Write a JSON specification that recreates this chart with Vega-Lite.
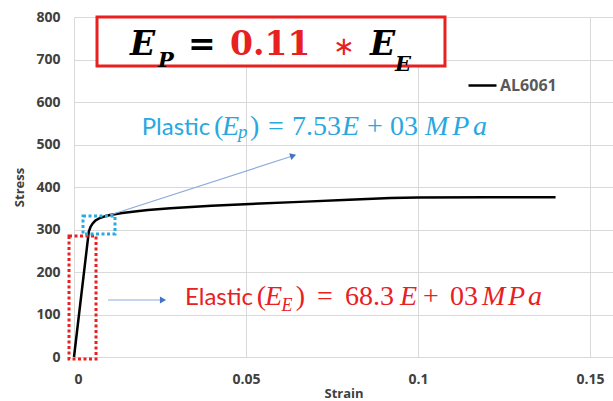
{
  "$schema": "https://vega.github.io/schema/vega-lite/v6.json",
  "width": 539,
  "height": 340,
  "autosize": {"type": "none"},
  "padding": {"left": 74, "top": 17, "right": 0, "bottom": 44},
  "background": "white",
  "config": {
    "view": {"stroke": null},
    "axis": {
      "domain": false,
      "ticks": false,
      "gridColor": "#d9d9d9",
      "gridWidth": 1,
      "labelFont": "Open Sans",
      "labelFontWeight": "bold",
      "labelFontSize": 14,
      "labelColor": "#404040",
      "titleFont": "Open Sans",
      "titleFontWeight": "bold",
      "titleFontSize": 13,
      "titleColor": "#404040"
    },
    "legend": {
      "orient": "none",
      "legendX": 393,
      "legendY": 53,
      "padding": 0,
      "symbolType": "stroke",
      "symbolSize": 784,
      "symbolStrokeWidth": 2.5,
      "labelOffset": 2,
      "labelFont": "Open Sans",
      "labelFontWeight": "bold",
      "labelFontSize": 16,
      "labelColor": "#595959",
      "title": null
    }
  },
  "datasets": {
    "curve": [
      {"strain": 0, "stress": 0, "series": "AL6061"},
      {"strain": 0.0043, "stress": 295, "series": "AL6061"},
      {"strain": 0.0048, "stress": 306, "series": "AL6061"},
      {"strain": 0.0054, "stress": 314, "series": "AL6061"},
      {"strain": 0.0062, "stress": 321, "series": "AL6061"},
      {"strain": 0.0075, "stress": 327, "series": "AL6061"},
      {"strain": 0.009, "stress": 331, "series": "AL6061"},
      {"strain": 0.0105, "stress": 334, "series": "AL6061"},
      {"strain": 0.014, "stress": 339, "series": "AL6061"},
      {"strain": 0.0183, "stress": 343, "series": "AL6061"},
      {"strain": 0.0215, "stress": 346, "series": "AL6061"},
      {"strain": 0.028, "stress": 350, "series": "AL6061"},
      {"strain": 0.04, "stress": 356, "series": "AL6061"},
      {"strain": 0.0512, "stress": 360, "series": "AL6061"},
      {"strain": 0.0657, "stress": 365, "series": "AL6061"},
      {"strain": 0.08, "stress": 370, "series": "AL6061"},
      {"strain": 0.092, "stress": 374, "series": "AL6061"},
      {"strain": 0.1, "stress": 375.5, "series": "AL6061"},
      {"strain": 0.12, "stress": 376, "series": "AL6061"},
      {"strain": 0.14, "stress": 376, "series": "AL6061"}
    ],
    "formulaBox": [{"strain": 0.00669, "strain2": 0.10785, "stress": 684.7, "stress2": 800}],
    "elasticZone": [{"strain": -0.00145, "strain2": 0.0064, "stress": -4.7, "stress2": 284.7}],
    "plasticZone": [{"strain": 0.00262, "strain2": 0.01192, "stress": 289.4, "stress2": 331.8}],
    "plasticArrow": [{"strain": 0.01047, "stress": 334, "strain2": 0.06372, "stress2": 473.6}],
    "elasticArrow": [{"strain": 0.00988, "stress": 134.1, "strain2": 0.02587, "stress2": 134.1}],
    "labels": [
      {"role": "f_var", "text": "E", "strain": 0.01628, "stress": 710.6},
      {"role": "f_var", "text": "E", "strain": 0.08605, "stress": 710.6},
      {"role": "f_sub", "text": "P", "strain": 0.02442, "stress": 682},
      {"role": "f_sub", "text": "E", "strain": 0.09331, "stress": 674},
      {"role": "f_eq", "text": "=", "strain": 0.03314, "stress": 710.6},
      {"role": "f_coef", "text": "0.11", "strain": 0.04535, "stress": 710.6},
      {"role": "f_times", "text": "∗", "strain": 0.07529, "stress": 710.6},
      {"role": "p_word", "text": "Plastic", "strain": 0.01968, "stress": 522.4},
      {"role": "p_up", "text": "(", "strain": 0.0407, "stress": 522.4},
      {"role": "p_up", "text": ")", "strain": 0.05116, "stress": 522.4},
      {"role": "p_up", "text": "=", "strain": 0.0564, "stress": 522.4},
      {"role": "p_up", "text": "7.53", "strain": 0.06337, "stress": 522.4},
      {"role": "p_up", "text": "+", "strain": 0.08517, "stress": 522.4},
      {"role": "p_up", "text": "03", "strain": 0.09186, "stress": 522.4},
      {"role": "p_it", "text": "E", "strain": 0.04305, "stress": 522.4},
      {"role": "p_it", "text": "E", "strain": 0.0779, "stress": 522.4},
      {"role": "p_it", "text": "M", "strain": 0.10203, "stress": 522.4},
      {"role": "p_it", "text": "P", "strain": 0.10993, "stress": 522.4},
      {"role": "p_it", "text": "a", "strain": 0.11599, "stress": 522.4},
      {"role": "p_sub", "text": "p", "strain": 0.0477, "stress": 515},
      {"role": "e_word", "text": "Elastic", "strain": 0.03227, "stress": 122.4},
      {"role": "e_up", "text": "(", "strain": 0.0531, "stress": 122.4},
      {"role": "e_up", "text": ")", "strain": 0.0645, "stress": 122.4},
      {"role": "e_up", "text": "=", "strain": 0.07064, "stress": 122.4},
      {"role": "e_up", "text": "68.3", "strain": 0.07878, "stress": 122.4},
      {"role": "e_up", "text": "+", "strain": 0.10145, "stress": 122.4},
      {"role": "e_up", "text": "03", "strain": 0.1093, "stress": 122.4},
      {"role": "e_it", "text": "E", "strain": 0.05555, "stress": 122.4},
      {"role": "e_it", "text": "E", "strain": 0.09477, "stress": 122.4},
      {"role": "e_it", "text": "M", "strain": 0.11860, "stress": 122.4},
      {"role": "e_it", "text": "P", "strain": 0.12616, "stress": 122.4},
      {"role": "e_it", "text": "a", "strain": 0.13198, "stress": 122.4},
      {"role": "e_sub", "text": "E", "strain": 0.0603, "stress": 108.2}
    ]
  },
  "layer": [
    {
      "data": {"name": "curve"},
      "mark": {"type": "line", "strokeWidth": 2.5, "interpolate": "linear", "strokeJoin": "round"},
      "encoding": {
        "x": {
          "field": "strain", "type": "quantitative",
          "scale": {"domain": [0, 0.1567], "nice": false, "zero": false},
          "axis": {"values": [0, 0.05, 0.1, 0.15], "format": "~g", "title": "Strain", "labelPadding": 15, "titlePadding": 1}
        },
        "y": {
          "field": "stress", "type": "quantitative",
          "scale": {"domain": [0, 800], "nice": false},
          "axis": {"values": [0, 100, 200, 300, 400, 500, 600, 700, 800], "title": "Stress", "labelPadding": 14, "titlePadding": 9}
        },
        "color": {"field": "series", "type": "nominal", "scale": {"domain": ["AL6061"], "range": ["#000000"]}}
      }
    },
    {
      "data": {"name": "elasticZone"},
      "mark": {"type": "rect", "fill": null, "fillOpacity": 0, "stroke": "#e8201f", "strokeWidth": 3, "strokeDash": [3, 2.5]},
      "encoding": {
        "x": {"field": "strain", "type": "quantitative"},
        "x2": {"field": "strain2"},
        "y": {"field": "stress", "type": "quantitative"},
        "y2": {"field": "stress2"}
      }
    },
    {
      "data": {"name": "plasticZone"},
      "mark": {"type": "rect", "fill": null, "fillOpacity": 0, "stroke": "#29abe2", "strokeWidth": 3, "strokeDash": [3, 2.5]},
      "encoding": {
        "x": {"field": "strain", "type": "quantitative"},
        "x2": {"field": "strain2"},
        "y": {"field": "stress", "type": "quantitative"},
        "y2": {"field": "stress2"}
      }
    },
    {
      "data": {"name": "plasticArrow"},
      "mark": {"type": "rule", "stroke": "#8eaadb", "strokeWidth": 1.2},
      "encoding": {
        "x": {"field": "strain", "type": "quantitative"},
        "x2": {"field": "strain2"},
        "y": {"field": "stress", "type": "quantitative"},
        "y2": {"field": "stress2"}
      }
    },
    {
      "data": {"name": "plasticArrow"},
      "mark": {"type": "point", "shape": "triangle-up", "angle": 72, "filled": true, "fill": "#4472c4", "opacity": 1, "size": 50},
      "encoding": {
        "x": {"field": "strain2", "type": "quantitative", "title": "Strain"},
        "y": {"field": "stress2", "type": "quantitative", "title": "Stress"}
      }
    },
    {
      "data": {"name": "elasticArrow"},
      "mark": {"type": "rule", "stroke": "#8eaadb", "strokeWidth": 1.2},
      "encoding": {
        "x": {"field": "strain", "type": "quantitative"},
        "x2": {"field": "strain2"},
        "y": {"field": "stress", "type": "quantitative"},
        "y2": {"field": "stress2"}
      }
    },
    {
      "data": {"name": "elasticArrow"},
      "mark": {"type": "point", "shape": "triangle-right", "filled": true, "fill": "#4472c4", "opacity": 1, "size": 50},
      "encoding": {
        "x": {"field": "strain2", "type": "quantitative", "title": "Strain"},
        "y": {"field": "stress2", "type": "quantitative", "title": "Stress"}
      }
    },
    {
      "data": {"name": "formulaBox"},
      "mark": {"type": "rect", "fill": "white", "stroke": "#e8201f", "strokeWidth": 3},
      "encoding": {
        "x": {"field": "strain", "type": "quantitative"},
        "x2": {"field": "strain2"},
        "y": {"field": "stress", "type": "quantitative"},
        "y2": {"field": "stress2"}
      }
    },
    {
      "data": {"name": "labels"},
      "transform": [{"filter": "datum.role == 'f_var'"}],
      "mark": {"type": "text", "align": "left", "baseline": "alphabetic", "font": "DejaVu Serif", "fontWeight": "bold", "fontStyle": "italic", "fontSize": 33, "fill": "#000000"},
      "encoding": {
        "x": {"field": "strain", "type": "quantitative"},
        "y": {"field": "stress", "type": "quantitative"},
        "text": {"field": "text"}
      }
    },
    {
      "data": {"name": "labels"},
      "transform": [{"filter": "datum.role == 'f_sub'"}],
      "mark": {"type": "text", "align": "left", "baseline": "alphabetic", "font": "DejaVu Serif", "fontWeight": "bold", "fontStyle": "italic", "fontSize": 21, "fill": "#000000"},
      "encoding": {
        "x": {"field": "strain", "type": "quantitative"},
        "y": {"field": "stress", "type": "quantitative"},
        "text": {"field": "text"}
      }
    },
    {
      "data": {"name": "labels"},
      "transform": [{"filter": "datum.role == 'f_eq'"}],
      "mark": {"type": "text", "align": "left", "baseline": "alphabetic", "font": "DejaVu Serif", "fontWeight": "bold", "fontSize": 33, "fill": "#000000"},
      "encoding": {
        "x": {"field": "strain", "type": "quantitative"},
        "y": {"field": "stress", "type": "quantitative"},
        "text": {"field": "text"}
      }
    },
    {
      "data": {"name": "labels"},
      "transform": [{"filter": "datum.role == 'f_coef'"}],
      "mark": {"type": "text", "align": "left", "baseline": "alphabetic", "font": "DejaVu Serif", "fontWeight": "bold", "fontSize": 33, "fill": "#e8201f"},
      "encoding": {
        "x": {"field": "strain", "type": "quantitative"},
        "y": {"field": "stress", "type": "quantitative"},
        "text": {"field": "text"}
      }
    },
    {
      "data": {"name": "labels"},
      "transform": [{"filter": "datum.role == 'f_times'"}],
      "mark": {"type": "text", "align": "left", "baseline": "alphabetic", "font": "DejaVu Sans", "fontSize": 26, "fill": "#e8201f"},
      "encoding": {
        "x": {"field": "strain", "type": "quantitative"},
        "y": {"field": "stress", "type": "quantitative"},
        "text": {"field": "text"}
      }
    },
    {
      "data": {"name": "labels"},
      "transform": [{"filter": "datum.role == 'p_word'"}],
      "mark": {"type": "text", "align": "left", "baseline": "alphabetic", "font": "Lato", "fontSize": 24, "fill": "#29a8e0"},
      "encoding": {
        "x": {"field": "strain", "type": "quantitative"},
        "y": {"field": "stress", "type": "quantitative"},
        "text": {"field": "text"}
      }
    },
    {
      "data": {"name": "labels"},
      "transform": [{"filter": "datum.role == 'p_up'"}],
      "mark": {"type": "text", "align": "left", "baseline": "alphabetic", "font": "Liberation Serif", "fontSize": 28, "fill": "#29a8e0"},
      "encoding": {
        "x": {"field": "strain", "type": "quantitative"},
        "y": {"field": "stress", "type": "quantitative"},
        "text": {"field": "text"}
      }
    },
    {
      "data": {"name": "labels"},
      "transform": [{"filter": "datum.role == 'p_it'"}],
      "mark": {"type": "text", "align": "left", "baseline": "alphabetic", "font": "Liberation Serif", "fontStyle": "italic", "fontSize": 28, "fill": "#29a8e0"},
      "encoding": {
        "x": {"field": "strain", "type": "quantitative"},
        "y": {"field": "stress", "type": "quantitative"},
        "text": {"field": "text"}
      }
    },
    {
      "data": {"name": "labels"},
      "transform": [{"filter": "datum.role == 'p_sub'"}],
      "mark": {"type": "text", "align": "left", "baseline": "alphabetic", "font": "Liberation Serif", "fontStyle": "italic", "fontSize": 19, "fill": "#29a8e0"},
      "encoding": {
        "x": {"field": "strain", "type": "quantitative"},
        "y": {"field": "stress", "type": "quantitative"},
        "text": {"field": "text"}
      }
    },
    {
      "data": {"name": "labels"},
      "transform": [{"filter": "datum.role == 'e_word'"}],
      "mark": {"type": "text", "align": "left", "baseline": "alphabetic", "font": "Lato", "fontSize": 24, "fill": "#e8201f"},
      "encoding": {
        "x": {"field": "strain", "type": "quantitative"},
        "y": {"field": "stress", "type": "quantitative"},
        "text": {"field": "text"}
      }
    },
    {
      "data": {"name": "labels"},
      "transform": [{"filter": "datum.role == 'e_up'"}],
      "mark": {"type": "text", "align": "left", "baseline": "alphabetic", "font": "Liberation Serif", "fontSize": 28, "fill": "#e8201f"},
      "encoding": {
        "x": {"field": "strain", "type": "quantitative"},
        "y": {"field": "stress", "type": "quantitative"},
        "text": {"field": "text"}
      }
    },
    {
      "data": {"name": "labels"},
      "transform": [{"filter": "datum.role == 'e_it'"}],
      "mark": {"type": "text", "align": "left", "baseline": "alphabetic", "font": "Liberation Serif", "fontStyle": "italic", "fontSize": 28, "fill": "#e8201f"},
      "encoding": {
        "x": {"field": "strain", "type": "quantitative"},
        "y": {"field": "stress", "type": "quantitative"},
        "text": {"field": "text"}
      }
    },
    {
      "data": {"name": "labels"},
      "transform": [{"filter": "datum.role == 'e_sub'"}],
      "mark": {"type": "text", "align": "left", "baseline": "alphabetic", "font": "Liberation Serif", "fontStyle": "italic", "fontSize": 18, "fill": "#e8201f"},
      "encoding": {
        "x": {"field": "strain", "type": "quantitative"},
        "y": {"field": "stress", "type": "quantitative"},
        "text": {"field": "text"}
      }
    }
  ]
}
